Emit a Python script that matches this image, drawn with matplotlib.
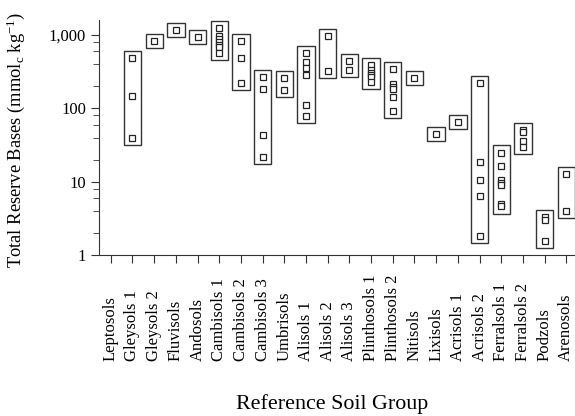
import numpy as np
import matplotlib
matplotlib.use("Agg")
import matplotlib.pyplot as plt
from matplotlib.patches import Rectangle
from matplotlib.ticker import FixedLocator, NullFormatter

plt.rcParams['font.family'] = ['Liberation Serif', 'DejaVu Serif']
plt.rcParams['mathtext.fontset'] = 'custom'
plt.rcParams['mathtext.rm'] = 'Liberation Serif'
plt.rcParams['mathtext.it'] = 'Liberation Serif:italic'

# Reference soil groups and their total reserve bases (mmolc/kg)
soil_groups = ["Leptosols", "Gleysols 1", "Gleysols 2", "Fluvisols", "Andosols",
               "Cambisols 1", "Cambisols 2", "Cambisols 3", "Umbrisols", "Alisols 1",
               "Alisols 2", "Alisols 3", "Plinthosols 1", "Plinthosols 2", "Nitisols",
               "Lixisols", "Acrisols 1", "Acrisols 2", "Ferralsols 1", "Ferralsols 2",
               "Podzols", "Arenosols"]
trb_values = [
    [],
    [482, 148, 40],
    [823],
    [1175],
    [942],
    [1250, 970, 870, 800, 740, 680, 570],
    [839, 492, 224],
    [268, 182, 43.4, 21.9],
    [258, 177],
    [570, 425, 352, 286, 112, 78.7],
    [972, 324],
    [439, 331],
    [390, 335, 305, 285, 265, 230],
    [341, 215, 194, 182, 142, 92],
    [262],
    [44.3],
    [65.9],
    [222, 18.4, 10.5, 6.3, 1.84],
    [25, 16.5, 10.5, 9.7, 9.1, 5.0, 4.6],
    [50, 47, 36, 29.5],
    [3.27, 3.0, 1.57],
    [12.7, 3.98],
]

pad = 1.25      # range box extends a bit beyond min/max (log scale)
box_w = 0.8

fig = plt.figure(figsize=(5.75, 4.16), dpi=100)
ax = fig.add_axes([0.1727, 0.387, 0.8273, 0.5647])
ax.set_yscale('log')

for i, vals in enumerate(trb_values):
    if not vals:
        continue
    lo, hi = min(vals) / pad, max(vals) * pad
    ax.add_patch(Rectangle((i - box_w / 2, lo), box_w, hi - lo, fill=False,
                           edgecolor='#333333', linewidth=1.0))
    ax.plot([i] * len(vals), vals, linestyle='none', marker='s', markersize=4,
            markerfacecolor='white', markeredgecolor='#222222', markeredgewidth=0.9)

ax.set_xlim(-0.53, 21.4)
ax.set_ylim(1, 1600)
ax.set_xticks(range(len(soil_groups)))
ax.set_xticklabels(soil_groups, rotation=90, fontsize=12)
for lbl in ax.get_xticklabels():
    lbl.set_va('bottom')
ax.yaxis.set_major_locator(FixedLocator([1, 10, 100, 1000]))
ax.set_yticklabels(["1", "10", "100", "1,000"], fontsize=12)
ax.yaxis.set_minor_locator(FixedLocator([v * d for d in [1, 10, 100] for v in [2, 4, 6, 8]]))
ax.yaxis.set_minor_formatter(NullFormatter())

for s in ['top', 'right']:
    ax.spines[s].set_visible(False)
for s in ['left', 'bottom']:
    ax.spines[s].set_color('#333333')
ax.tick_params(axis='both', which='major', direction='out', length=6, color='#333333')
ax.tick_params(axis='x', pad=70)
ax.tick_params(axis='y', which='minor', direction='out', length=4, color='#333333')

ax.set_ylabel("Total Reserve Bases (mmol$_\\mathregular{c}$ kg$^\\mathregular{-1}$)", fontsize=13.3)
ax.yaxis.set_label_coords(-0.152, 0.49)
ax.set_xlabel("Reference Soil Group", fontsize=15.8)
ax.xaxis.set_label_coords(0.489, -0.59)

fig.savefig("out.png", dpi=100)
